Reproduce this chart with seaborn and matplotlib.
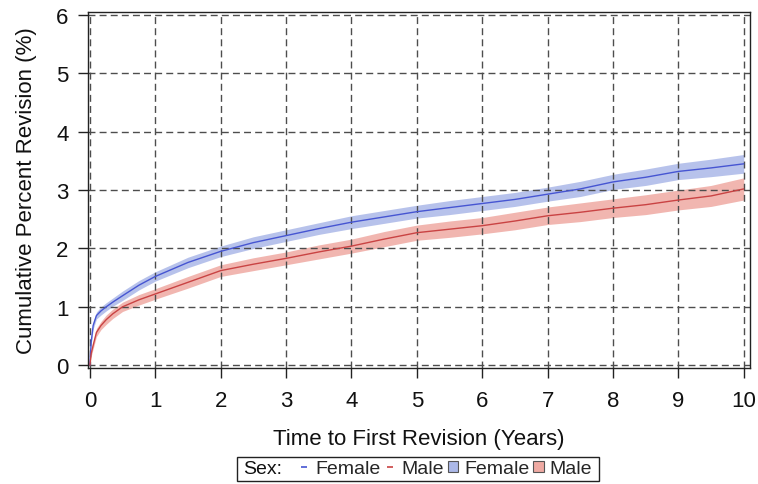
import numpy as np
import pandas as pd
import seaborn as sns
import matplotlib
matplotlib.use("Agg")
import matplotlib.pyplot as plt
from matplotlib.lines import Line2D
from matplotlib.patches import Patch, Rectangle

# Cumulative percent revision by sex (Kaplan-Meier style estimates with 95% bands)
years = [0, 0.02, 0.05, 0.1, 0.17, 0.25, 0.35, 0.5, 0.75, 1, 1.5, 2, 2.5, 3,
         3.5, 4, 4.5, 5, 5.5, 6, 6.5, 7, 7.5, 8, 8.5, 9, 9.5, 10]
female_pct = [0, 0.40, 0.68, 0.85, 0.93, 1.00, 1.08, 1.19, 1.37, 1.52, 1.76,
              1.95, 2.10, 2.22, 2.34, 2.45, 2.54, 2.63, 2.70, 2.77, 2.84,
              2.93, 3.02, 3.14, 3.22, 3.32, 3.38, 3.45]
male_pct = [0, 0.20, 0.34, 0.56, 0.68, 0.78, 0.88, 1.00, 1.12, 1.22, 1.42,
            1.62, 1.73, 1.83, 1.94, 2.04, 2.16, 2.27, 2.33, 2.39, 2.47,
            2.56, 2.62, 2.69, 2.75, 2.83, 2.90, 3.02]
female_ci = [0, 0.05, 0.06, 0.06, 0.07, 0.07, 0.07, 0.08, 0.08, 0.08, 0.09,
             0.09, 0.10, 0.10, 0.10, 0.11, 0.11, 0.11, 0.12, 0.12, 0.12,
             0.12, 0.13, 0.13, 0.14, 0.14, 0.15, 0.16]
male_ci = [0, 0.05, 0.06, 0.07, 0.07, 0.08, 0.08, 0.08, 0.09, 0.09, 0.10,
           0.10, 0.11, 0.11, 0.12, 0.12, 0.13, 0.13, 0.14, 0.14, 0.15,
           0.15, 0.16, 0.16, 0.17, 0.17, 0.18, 0.19]
sexes = ["Female", "Male"]
x_ticks = list(range(0, 11))
y_ticks = list(range(0, 7))

line_colors = {"Female": "#4655d2", "Male": "#c94343"}
band_colors = {"Female": "#abb8e8", "Male": "#efaaa3"}

df = pd.DataFrame({
    "Time": years * 2,
    "Percent": female_pct + male_pct,
    "Sex": ["Female"] * len(years) + ["Male"] * len(years),
})

sns.set_style("white")
plt.rcParams["font.family"] = ["Liberation Sans", "DejaVu Sans"]

W, H = 758, 485
fig = plt.figure(figsize=(W / 100, H / 100), dpi=100)
ax = fig.add_axes([0.116, 0.239, 0.873, 0.734])

# confidence bands
for sex, pct, ci in [("Female", female_pct, female_ci), ("Male", male_pct, male_ci)]:
    p = np.array(pct)
    c = np.array(ci)
    ax.fill_between(years, p - c, p + c, color=band_colors[sex], alpha=0.85,
                    linewidth=0, zorder=1)

sns.lineplot(data=df, x="Time", y="Percent", hue="Sex", palette=line_colors,
             estimator=None, errorbar=None, legend=False, linewidth=1.0,
             ax=ax, zorder=3)

ax.set_xlim(-0.03, 10.09)
ax.set_ylim(-0.05, 6.05)
ax.set_xticks(x_ticks)
ax.set_yticks(y_ticks)
ax.set_axisbelow("line")
ax.grid(True, color="#4d4d4d", linestyle=(0, (5, 3)), linewidth=1.0)

for s in ax.spines.values():
    s.set_color("#222222")
    s.set_linewidth(1.0)

ax.tick_params(axis="both", direction="out", length=7, width=1.0,
               color="#222222", labelsize=16, labelcolor="#111111", pad=7,
               bottom=True, left=True)
ax.tick_params(axis="x", pad=9)

ax.set_xlabel("Time to First Revision (Years)", fontsize=16, labelpad=12,
              color="#111111")
ax.set_ylabel("Cumulative Percent Revision (%)", fontsize=16, labelpad=14,
              color="#111111")

# legend: "Sex:" caption followed by line and band entries, in one frame
fig.text(243 / W, 1 - 470 / H, "Sex:", fontsize=14, color="#111111",
         ha="left", va="center")
handles = [
    Line2D([], [], color=line_colors["Female"], linestyle="none", marker="_",
           markersize=5, markeredgewidth=1.2),
    Line2D([], [], color=line_colors["Male"], linestyle="none", marker="_",
           markersize=5, markeredgewidth=1.2),
    Patch(facecolor=band_colors["Female"], edgecolor="#555555", linewidth=0.8),
    Patch(facecolor=band_colors["Male"], edgecolor="#555555", linewidth=0.8),
]
labels = ["Female", "Male", "Female", "Male"]
leg = fig.legend(handles, labels, loc="center left", ncol=4,
                 bbox_to_anchor=(299 / W, 1 - 470 / H), fontsize=14,
                 frameon=False, handlelength=0.55, handleheight=0.55,
                 handletextpad=0.3, columnspacing=0.2, borderpad=0,
                 borderaxespad=0)

fig.canvas.draw()
bb = leg.get_window_extent(fig.canvas.get_renderer())
x0 = 237
x1 = bb.x1 + 7
fig.add_artist(Rectangle((x0 / W, 1 - 482 / H), (x1 - x0) / W, 24 / H,
                         transform=fig.transFigure, fill=False,
                         edgecolor="#222222", linewidth=1.0))

fig.savefig("out.png", dpi=100)
